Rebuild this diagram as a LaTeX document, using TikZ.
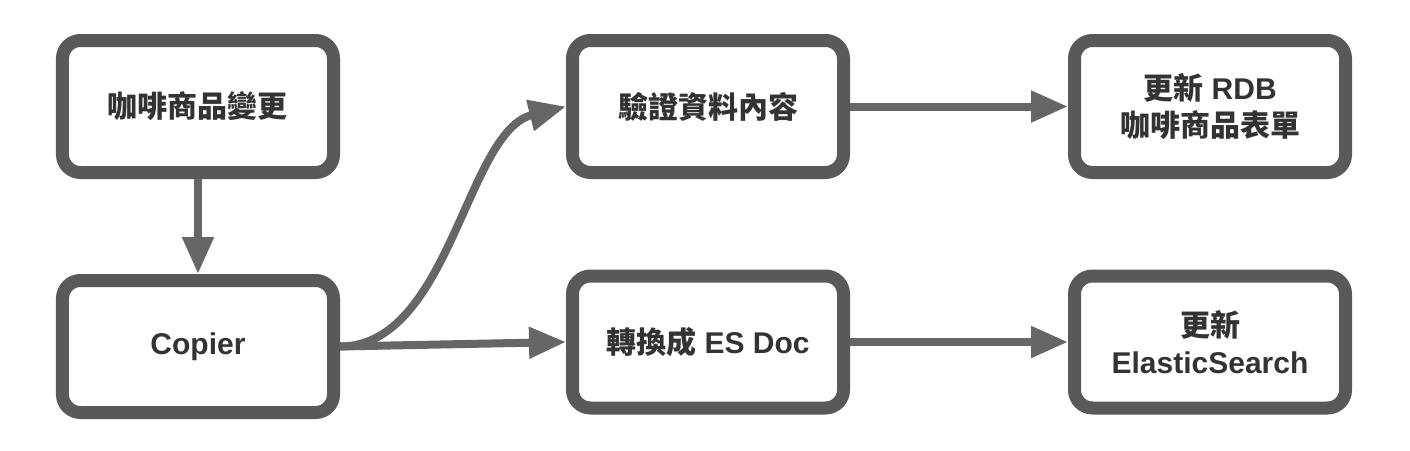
\documentclass[tikz,border=0pt]{standalone}
\usepackage{fontspec}
\setmainfont{Liberation Sans}
\newfontfamily\cjk{Noto Sans CJK TC}
\usetikzlibrary{arrows.meta, positioning, calc}
\definecolor{boxgray}{HTML}{595959}
\definecolor{arrowgray}{HTML}{666666}
\definecolor{textgray}{HTML}{333333}
\newcommand{\zh}[1]{{\cjk #1}}

\begin{document}
\begin{tikzpicture}[
    node distance=95pt and 226pt,
    box/.style={draw=boxgray, line width=13pt, rounded corners=18pt, minimum width=271pt, minimum height=132pt, align=center, text=textgray, font=\fontsize{30pt}{37pt}\selectfont\bfseries},
    arrow/.style={-{Triangle[length=37pt, width=30pt]}, line width=8pt, draw=arrowgray, fill=arrowgray}
]
    \node[box] (change) {\zh{咖啡商品變更}};
    \node[box, below=of change] (copier) {Copier};
    \node[box, right=226pt of change] (verify) {\zh{驗證資料內容}};
    \node[box, right=218pt of verify] (rdb) {\zh{更新} RDB\\\zh{咖啡商品表單}};
    \node[box, below=of verify, yshift=4.5pt] (convert) {\zh{轉換成} ES Doc};
    \node[box, below=of rdb, yshift=4.5pt] (es) {\zh{更新}\\ElasticSearch};

    \useasboundingbox ($(change.north west)+(-56pt,34pt)$) rectangle +(1410pt,-450pt);

    \draw[arrow] (change) -- (copier);
    \draw[arrow, fill=none] (copier.east) .. controls +(110pt,0pt) and +(-100pt,-25pt) .. (verify.west);
    \draw[arrow] (copier.east) -- (convert.west);
    \draw[arrow] (verify) -- (rdb);
    \draw[arrow] (convert) -- (es);
\end{tikzpicture}
\end{document}
